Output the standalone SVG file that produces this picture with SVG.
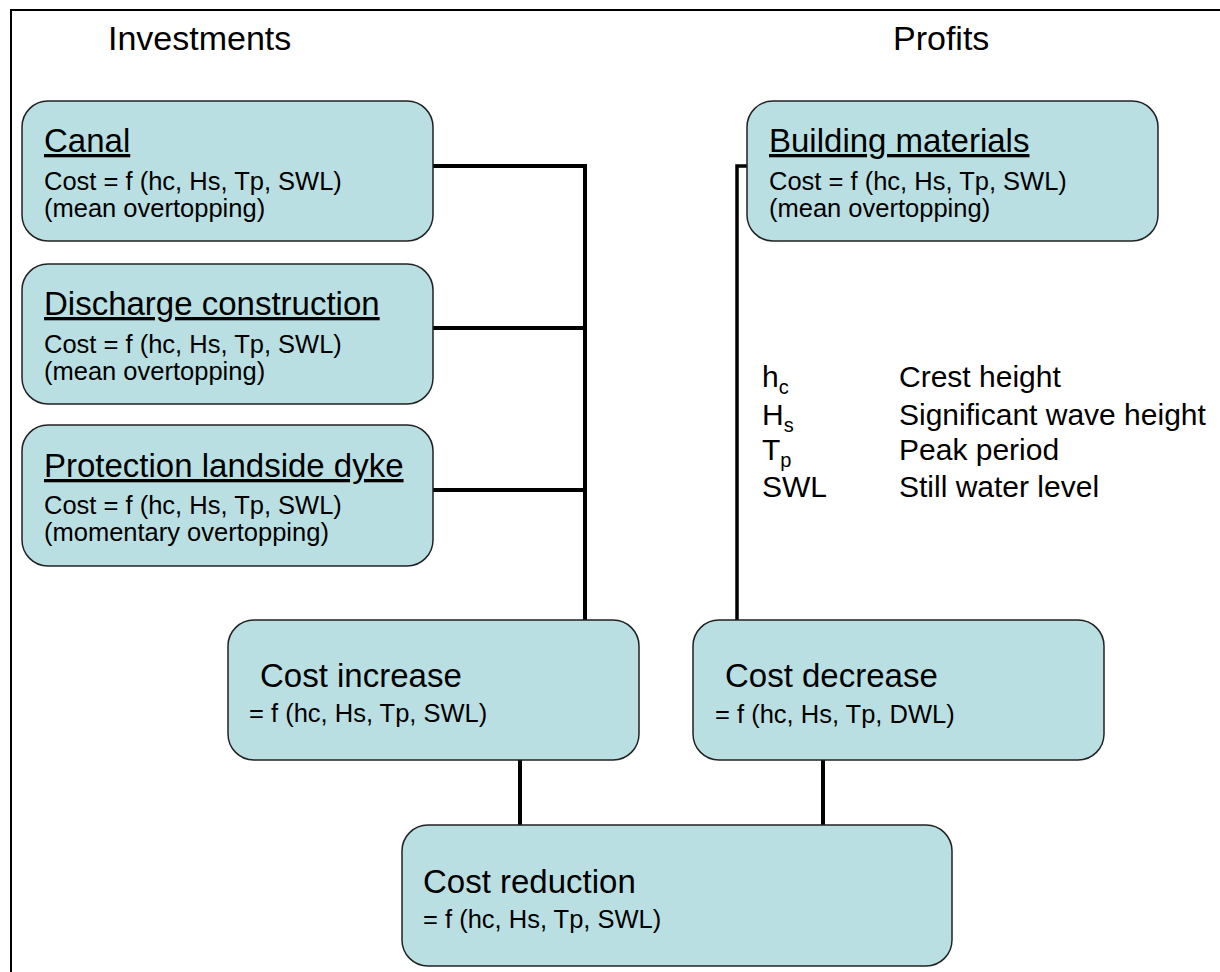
<svg xmlns="http://www.w3.org/2000/svg" width="1220" height="972" viewBox="0 0 1220 972">
<style>
.box{fill:#b9dfe2;stroke:#222;stroke-width:1.5}
.t{font-family:"Liberation Sans",Arial,sans-serif;fill:#000}
.ttl{font-size:33px;text-decoration:underline}
.big{font-size:33px}
.body{font-size:25.5px}
.head{font-size:34px}
.leg{font-size:30px}
.sub{font-size:20px}
.conn{fill:none;stroke:#000;stroke-width:4;stroke-linejoin:miter}
</style>
<rect width="1220" height="972" fill="#fff"/>
<rect x="11" y="10" width="1300" height="1100" fill="none" stroke="#000" stroke-width="2"/>
<text class="t head" x="108" y="50">Investments</text>
<text class="t head" x="893" y="50">Profits</text>
<g id="connectors">
<polyline class="conn" points="433,166 585,166 585,620"/>
<line class="conn" x1="433" y1="328" x2="585" y2="328"/>
<line class="conn" x1="433" y1="490" x2="585" y2="490"/>
<polyline class="conn" points="747,166 737,166 737,620" style="stroke-width:3.5"/>
<line class="conn" x1="520" y1="760" x2="520" y2="825"/>
<line class="conn" x1="823" y1="760" x2="823" y2="825"/>
</g>
<g id="canal">
<rect class="box" x="22" y="101" width="411" height="140" rx="26"/>
<text class="t ttl" x="44" y="152">Canal</text>
<text class="t body" x="44" y="190">Cost = f (hc, Hs, Tp, SWL)</text>
<text class="t body" x="44" y="217">(mean overtopping)</text>
</g>
<g id="discharge">
<rect class="box" x="22" y="264" width="411" height="140" rx="26"/>
<text class="t ttl" x="44" y="315">Discharge construction</text>
<text class="t body" x="44" y="353">Cost = f (hc, Hs, Tp, SWL)</text>
<text class="t body" x="44" y="380">(mean overtopping)</text>
</g>
<g id="protection">
<rect class="box" x="22" y="425" width="411" height="141" rx="26"/>
<text class="t ttl" x="44" y="477">Protection landside dyke</text>
<text class="t body" x="44" y="514">Cost = f (hc, Hs, Tp, SWL)</text>
<text class="t body" x="44" y="541">(momentary overtopping)</text>
</g>
<g id="building">
<rect class="box" x="747" y="101" width="411" height="140" rx="26"/>
<text class="t ttl" x="769" y="152">Building materials</text>
<text class="t body" x="769" y="190">Cost = f (hc, Hs, Tp, SWL)</text>
<text class="t body" x="769" y="217">(mean overtopping)</text>
</g>
<g id="legend">
<text class="t leg" x="762" y="387">h<tspan class="sub" dy="7">c</tspan></text>
<text class="t leg" x="762" y="425">H<tspan class="sub" dy="7">s</tspan></text>
<text class="t leg" x="762" y="460">T<tspan class="sub" dy="7">p</tspan></text>
<text class="t leg" x="762" y="497">SWL</text>
<text class="t leg" x="899" y="387">Crest height</text>
<text class="t leg" x="899" y="425">Significant wave height</text>
<text class="t leg" x="899" y="460">Peak period</text>
<text class="t leg" x="899" y="497">Still water level</text>
</g>
<g id="cost-increase">
<rect class="box" x="228" y="620" width="411" height="140" rx="26"/>
<text class="t big" x="260" y="687">Cost increase</text>
<text class="t body" x="249" y="722">= f (hc, Hs, Tp, SWL)</text>
</g>
<g id="cost-decrease">
<rect class="box" x="693" y="620" width="411" height="140" rx="26"/>
<text class="t big" x="725" y="687">Cost decrease</text>
<text class="t body" x="715" y="723">= f (hc, Hs, Tp, DWL)</text>
</g>
<g id="cost-reduction">
<rect class="box" x="402" y="825" width="550" height="141" rx="26"/>
<text class="t big" x="423" y="893">Cost reduction</text>
<text class="t body" x="423" y="928">= f (hc, Hs, Tp, SWL)</text>
</g>
</svg>
